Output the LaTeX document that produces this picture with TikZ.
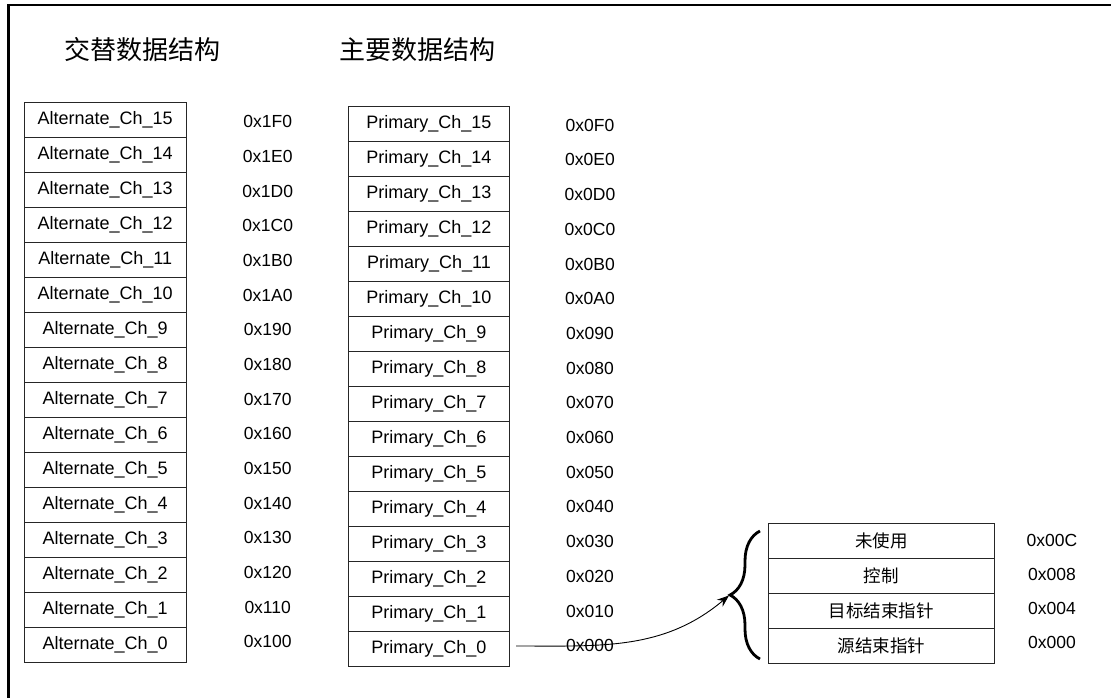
\documentclass[tikz,border=0pt]{standalone}
\usepackage{fontspec}
\setmainfont{Liberation Sans}
\newfontfamily\cjk{Noto Sans CJK SC}
\usetikzlibrary{arrows.meta,decorations.pathreplacing}

\tikzset{
  cell/.style={draw=black!85,line width=0.9pt,minimum height=35pt,inner sep=0pt,font=\fontsize{18}{20}\selectfont},
  addr/.style={font=\fontsize{17.5}{20}\selectfont},
  title/.style={font=\cjk\fontsize{26}{28}\selectfont},
}

\begin{document}
\begin{tikzpicture}[x=1pt,y=1pt,>={Stealth[length=12pt,width=9pt]}]
\useasboundingbox (0,0) rectangle (1111,697);
% frame
\draw[line width=2.5pt] (8.7,-5) |- (1120,692);
% titles
\node[title] (alttitle) at (142,647) {交替数据结构};
\node[title] (prititle) at (417,647) {主要数据结构};
% channel tables
\foreach \k/\h in {0/0,1/1,2/2,3/3,4/4,5/5,6/6,7/7,8/8,9/9,10/A,11/B,12/C,13/D,14/E,15/F}{
  \node[cell,minimum width=161.7pt] (alt\k) at (105.2,52.5+35*\k) {Alternate\_Ch\_\k};
  \node[addr] (altaddr\k) at (267.7,55.3+34.67*\k) {0x1\h0};
  \node[cell,minimum width=161.4pt] (pri\k) at (429,48+35*\k) {Primary\_Ch\_\k};
  \node[addr] (priaddr\k) at (590,51.3+34.7*\k) {0x0\h0};
}
% control structure
\foreach \j/\txt/\off in {0/源结束指针/000,1/目标结束指针/004,2/控制/008,3/未使用/00C}{
  \node[cell,minimum width=226pt,font=\cjk\fontsize{17.5}{20}\selectfont] (field\j) at (881.3,51+35*\j) {\txt};
  \node[addr] (fieldaddr\j) at (1052,54.3+34*\j) {0x\off};
}
% brace
\coordinate (bracebot) at (760,38);
\coordinate (bracetop) at (760,166);
\coordinate (bracetip) at (729,101.5);
\draw[line width=2.8pt,decorate,decoration={brace,amplitude=30pt}] (bracebot) -- (bracetop);
\draw[->,line width=0.9pt] ([xshift=6pt,yshift=3pt]pri0.east) to[out=0,in=-140] (bracetip);
\end{tikzpicture}
\end{document}
